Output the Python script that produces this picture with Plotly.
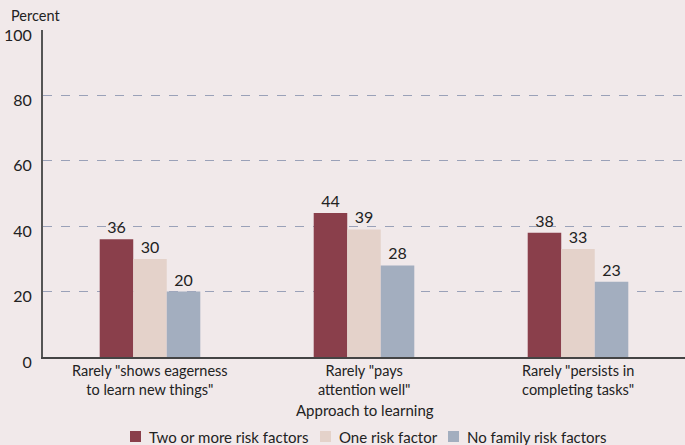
import plotly.graph_objects as go

category_lines = [['Rarely "shows eagerness', 'to learn new things"'],
                  ['Rarely "pays', 'attention well"'],
                  ['Rarely "persists in', 'completing tasks"']]
categories = [" ".join(c) for c in category_lines]
series_names = ["Two or more risk factors", "One risk factor", "No family risk factors"]
two_plus = [36, 44, 38]
one_risk = [30, 39, 33]
no_risk = [20, 28, 23]
colors = ["#8a3f4b", "#e4d2ca", "#a3aebf"]
y_ticks = [0, 20, 40, 60, 80, 100]

BG = "#f1e9ea"
FONT = "Lato, 'Open Sans', sans-serif"
W, H = 685, 445
ML, MR, MT, MB = 43, 0, 30, 88
plot_h = H - MT - MB
plot_w = W - ML - MR


def py(p):
    return (H - MB - p) / plot_h


def px(p):
    return (p - ML) / plot_w


fig = go.Figure()
for name, vals, col in zip(series_names, [two_plus, one_risk, no_risk], colors):
    fig.add_trace(go.Bar(
        x=categories, y=vals, name=name, marker=dict(color=col, line=dict(width=0)),
        text=[str(v) for v in vals], textposition="outside", cliponaxis=False,
        textfont=dict(size=16, color="#222"), showlegend=False,
    ))

annotations = [
    dict(text="Percent", x=px(9), xref="paper", xanchor="left",
         y=py(15), yref="paper", yanchor="middle", showarrow=False, font=dict(size=14.5)),
    dict(text="Approach to learning", x=px(365), xref="paper", xanchor="center",
         y=py(410), yref="paper", yanchor="middle", showarrow=False, font=dict(size=15)),
]
for cat, lines in zip(categories, category_lines):
    annotations.append(dict(text="<br>".join(lines), x=cat, xref="x", xanchor="center",
                            y=py(380), yref="paper", yanchor="middle", align="center",
                            showarrow=False, font=dict(size=14.5)))

# manual legend (square swatch + label), left edges in pixels
legend_x = [130, 320, 448]
shapes = []
for name, col, lx in zip(series_names, colors, legend_x):
    shapes.append(dict(type="rect", xref="paper", yref="paper",
                       x0=px(lx), x1=px(lx + 11), y0=py(442), y1=py(431),
                       fillcolor=col, line=dict(width=0)))
    annotations.append(dict(text=name, x=px(lx + 17), xref="paper", xanchor="left",
                            y=py(437), yref="paper", yanchor="middle", showarrow=False,
                            font=dict(size=15)))

fig.update_layout(
    width=W, height=H,
    paper_bgcolor=BG, plot_bgcolor=BG,
    font=dict(family=FONT, size=15, color="#222"),
    margin=dict(l=ML, r=MR, t=MT, b=MB, autoexpand=False),
    barmode="group", bargap=0.53, bargroupgap=0,
    showlegend=False,
    xaxis=dict(showline=True, linecolor="#444", linewidth=2, showticklabels=False, ticks=""),
    yaxis=dict(range=[0, 100], tickvals=y_ticks, showline=True, linecolor="#555", linewidth=2,
               showgrid=True, gridcolor="#9aa1b8", griddash="dash", gridwidth=1,
               zeroline=False, tickfont=dict(size=16), ticks="outside", ticklen=6,
               tickcolor="rgba(0,0,0,0)", ticklabelshift=5),
    annotations=annotations,
    shapes=shapes,
)
fig.write_html("out.html", config={"displayModeBar": False},
               post_script="document.body.style.margin='0';document.body.style.overflow='hidden';")
